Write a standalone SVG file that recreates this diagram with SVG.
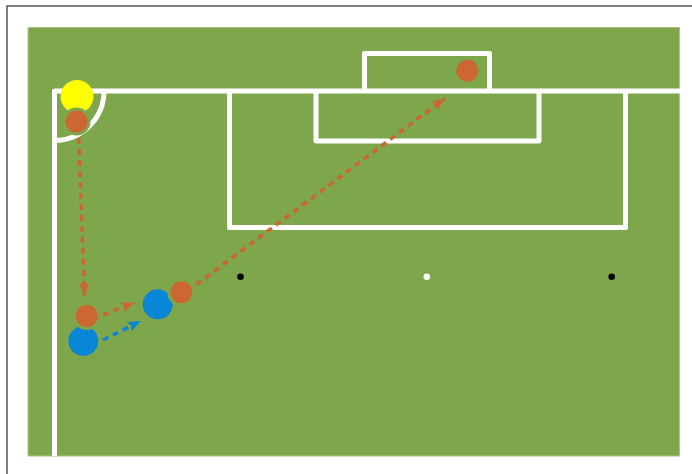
<svg xmlns="http://www.w3.org/2000/svg" width="692" height="474" viewBox="0 0 692 474">
<defs>
<style>
.line{fill:none;stroke:#ffffff;stroke-width:5;stroke-linejoin:round}
.orange{fill:#cc6633;stroke:#7ea64a;stroke-width:3}
.blue{fill:#0a86d6;stroke:#7ea64a;stroke-width:3}
.yellow{fill:#ffff00}
.dashO{fill:none;stroke:#cc6633;stroke-width:3.5;stroke-dasharray:6,5}
.dashB{fill:none;stroke:#0a86d6;stroke-width:3.5;stroke-dasharray:6,5}
</style>
<marker id="arrO" viewBox="0 0 10 10" refX="10" refY="5" markerWidth="13" markerHeight="10" markerUnits="userSpaceOnUse" orient="auto" preserveAspectRatio="none"><path d="M0,0 L10,5 L0,10 L2,5 Z" fill="#cc6633"/></marker>
<marker id="arrB" viewBox="0 0 10 10" refX="10" refY="5" markerWidth="13" markerHeight="10" markerUnits="userSpaceOnUse" orient="auto" preserveAspectRatio="none"><path d="M0,0 L10,5 L0,10 L2,5 Z" fill="#0a86d6"/></marker>
</defs>
<rect x="0" y="0" width="692" height="474" fill="#ffffff"/>
<rect x="7" y="6" width="700" height="480" fill="none" stroke="#555555" stroke-width="1.5"/>
<g id="pitch">
<rect x="28" y="27.5" width="651.5" height="428.5" fill="#7ea64a" stroke="#a9c886" stroke-width="1"/>
<path class="line" d="M54.5,456 L54.5,91 L680,91"/>
<path class="line" d="M104,91 A49.5,49.5 0 0 1 54.5,140.5"/>
<path class="line" d="M229.5,91 L229.5,227.5 L625.5,227.5 L625.5,91"/>
<path class="line" d="M316,91 L316,141 L539,141 L539,91"/>
<path class="line" d="M364.5,91 L364.5,53.5 L489.5,53.5 L489.5,91"/>
<circle cx="240.5" cy="276.7" r="3.3" fill="#000000"/>
<circle cx="426.8" cy="276.7" r="3.3" fill="#ffffff"/>
<circle cx="611.7" cy="276.7" r="3.3" fill="#000000"/>
</g>
<g id="connectors">
<line class="dashO" x1="78.7" y1="138" x2="84.5" y2="296" marker-end="url(#arrO)"/>
<line class="dashO" x1="103" y1="315" x2="134.5" y2="302.5" marker-end="url(#arrO)"/>
<line class="dashB" x1="103" y1="340" x2="140.7" y2="321" marker-end="url(#arrB)"/>
<line class="dashO" x1="196.5" y1="284.5" x2="445" y2="98.3" marker-end="url(#arrO)"/>
</g>
<g id="ball"><circle class="yellow" cx="77" cy="96.5" r="16.5"/></g>
<g id="player-corner"><circle class="orange" cx="76.5" cy="121.5" r="12.5"/></g>
<g id="blue-1"><circle class="blue" cx="83.3" cy="341" r="16.5"/></g>
<g id="orange-1"><circle class="orange" cx="86.7" cy="316" r="12.5"/></g>
<g id="blue-2"><circle class="blue" cx="157.7" cy="304.3" r="16.5"/></g>
<g id="orange-2"><circle class="orange" cx="181.3" cy="292.3" r="12.5"/></g>
<g id="orange-goal"><circle class="orange" cx="467.3" cy="70.7" r="12.5"/></g>
</svg>
